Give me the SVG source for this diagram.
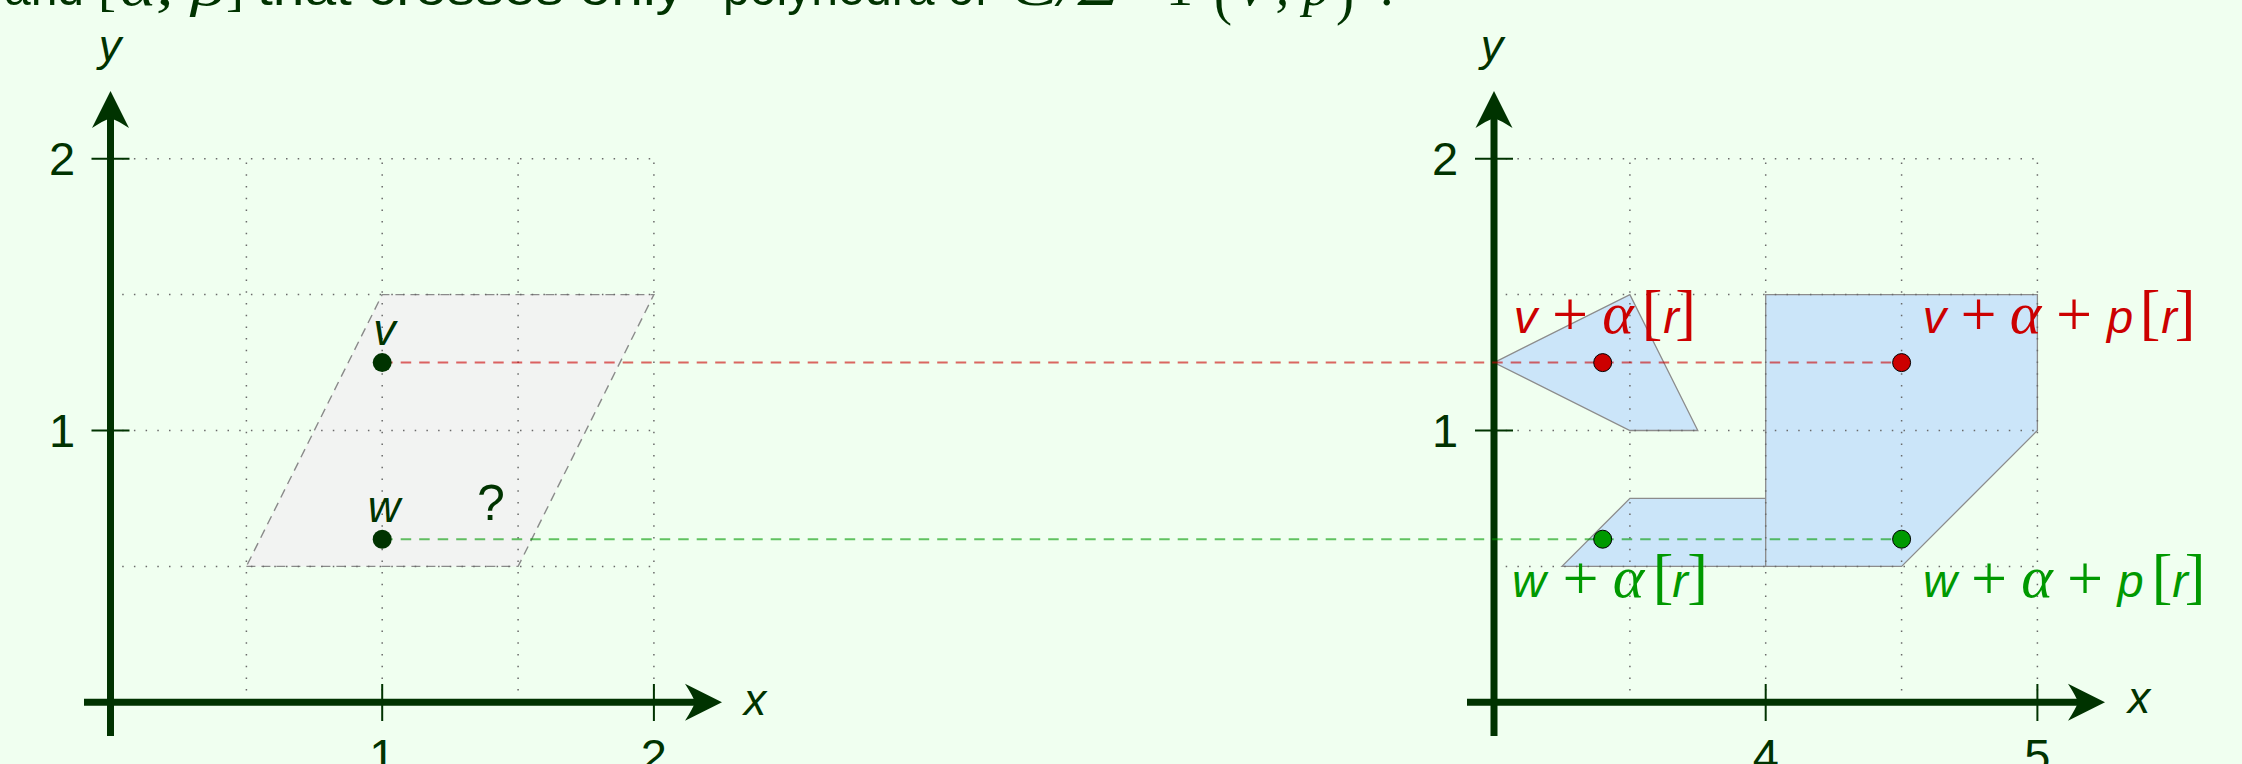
<svg xmlns="http://www.w3.org/2000/svg" width="2242" height="764" viewBox="0 0 2242 764">
<defs>
<style>
.axis{stroke:#003300;stroke-width:7;fill:none}
.tick{stroke:#003300;stroke-width:2;fill:none}
.grid{stroke:#6a6a6a;stroke-width:1.5;stroke-dasharray:1.5 10.2;fill:none}
.num{font-family:"Liberation Sans",Arial,sans-serif;font-size:47px;fill:#003300;text-anchor:middle}
.var{font-family:"Liberation Sans",Arial,sans-serif;font-style:italic;font-size:45px;fill:#003300;text-anchor:middle}
.q{font-family:"Liberation Sans",Arial,sans-serif;font-size:50px;fill:#003300;text-anchor:middle}
.ttl{font-family:"Liberation Sans",Arial,sans-serif;font-size:50px;fill:#003300}
.tts{font-family:"Liberation Serif","Times New Roman",serif;font-size:54px;fill:#003300}
.poly{fill:#cbe5f9;stroke:#8c8c8c;stroke-width:1.3}
.para{fill:#f2f3f2;stroke:#8a8a8a;stroke-width:1.4;stroke-dasharray:9 6}
.red{fill:#cc0000}
.grn{fill:#009900}
.ms{font-family:"Liberation Sans",Arial,sans-serif;font-style:italic;font-size:47px;text-anchor:middle}
.mp{font-family:"Liberation Serif","Times New Roman",serif;font-size:64px;text-anchor:middle}
.ma{font-family:"Liberation Serif","Times New Roman",serif;font-style:italic;font-size:60px;text-anchor:middle}
.mb{font-family:"Liberation Serif","Times New Roman",serif;font-size:62px;text-anchor:middle}
.dr{stroke:#cc0000;stroke-opacity:0.6;stroke-width:2;stroke-dasharray:10.5 8;fill:none}
.dg{stroke:#009900;stroke-opacity:0.6;stroke-width:2;stroke-dasharray:10.5 8;fill:none}
.dot{stroke:#000;stroke-width:1}
</style>
<marker id="arr" markerUnits="userSpaceOnUse" viewBox="-40 -20 54 40" markerWidth="54" markerHeight="40" refX="-12" refY="0" orient="auto">
<path d="M0,0 L-37,-18.5 Q-29,-6 -27,0 Q-29,6 -37,18.5 Z" fill="#003300"/>
</marker>
</defs>
<rect x="0" y="0" width="2242" height="764" fill="#f0fff0"/>

<g id="title">
<text class="ttl" x="4" y="5" textLength="80" lengthAdjust="spacingAndGlyphs">and</text>
<text class="tts" x="98" y="5" font-size="62">[</text>
<text class="tts" x="120" y="5" font-style="italic" textLength="105" lengthAdjust="spacingAndGlyphs">α, β</text>
<text class="tts" x="226" y="5" font-size="62">]</text>
<text class="ttl" x="257" y="5" textLength="427" lengthAdjust="spacingAndGlyphs">that crosses only</text>
<text class="ttl" x="723" y="5" textLength="265" lengthAdjust="spacingAndGlyphs">polyhedra of</text>
<text class="tts" x="1010" y="5" font-style="italic" textLength="110" lengthAdjust="spacingAndGlyphs">C/Σ</text>
<text class="tts" x="1166" y="5">1</text>
<text class="tts" x="1214" y="14" font-size="80">(</text>
<text class="tts" x="1240" y="5" font-style="italic" textLength="90" lengthAdjust="spacingAndGlyphs">v′, p</text>
<text class="tts" x="1336" y="14" font-size="80">)</text>
<text class="tts" x="1380" y="5">.</text>
</g>

<g id="left-plot">
<polygon id="parallelogram" class="para" points="246.4,566.4 518.1,566.4 653.9,294.6 382.2,294.6"/>
<g id="left-grid" class="grid">
<path d="M246.4,702.3V158.7M382.2,702.3V158.7M518.1,702.3V158.7M653.9,702.3V158.7"/>
<path d="M110.5,566.4H653.9M110.5,430.5H653.9M110.5,294.6H653.9M110.5,158.7H653.9"/>
</g>
<g id="left-axes">
<path class="axis" d="M110.5,736V103" marker-end="url(#arr)"/>
<path class="axis" d="M84,702.3H710" marker-end="url(#arr)"/>
<path class="tick" d="M91.5,430.5H129.5M91.5,158.7H129.5M382.2,684V721M653.9,684V721"/>
<text class="var" x="755" y="715">x</text>
<text class="var" x="110" y="61">y</text>
<text class="num" x="62" y="447">1</text>
<text class="num" x="62" y="175">2</text>
<text class="num" x="382.2" y="772">1</text>
<text class="num" x="653.9" y="772">2</text>
</g>
</g>

<g id="right-plot">
<g id="regions">
<polygon class="poly" points="1494,362.6 1629.9,294.6 1697.8,430.5 1629.9,430.5"/>
<polygon class="poly" points="1561.9,566.4 1629.9,498.4 1765.7,498.4 1765.7,566.4"/>
<polygon class="poly" points="1765.7,566.4 1765.7,294.6 2037.4,294.6 2037.4,430.5 1901.6,566.4"/>
</g>
<g id="right-grid" class="grid">
<path d="M1629.9,702.3V158.7M1765.7,702.3V158.7M1901.6,702.3V158.7M2037.4,702.3V158.7"/>
<path d="M1494,566.4H2037.4M1494,430.5H2037.4M1494,294.6H2037.4M1494,158.7H2037.4"/>
</g>
<g id="right-axes">
<path class="axis" d="M1494,736V103" marker-end="url(#arr)"/>
<path class="axis" d="M1467,702.3H2093" marker-end="url(#arr)"/>
<path class="tick" d="M1475,430.5H1513M1475,158.7H1513M1765.7,684V721M2037.4,684V721"/>
<text class="var" x="2139" y="713">x</text>
<text class="var" x="1492" y="61">y</text>
<text class="num" x="1445" y="447">1</text>
<text class="num" x="1445" y="175">2</text>
<text class="num" x="1765.7" y="772">4</text>
<text class="num" x="2037.4" y="772">5</text>
</g>
</g>

<g id="connectors">
<path class="dr" d="M382.2,362.6H1901.6"/>
<path class="dg" d="M382.2,539.2H1901.6"/>
</g>

<g id="node-v">
<circle cx="382.2" cy="362.6" r="9.5" fill="#003300"/>
<text class="var" x="384.5" y="345">v</text>
</g>
<g id="node-w">
<circle cx="382.2" cy="539.2" r="9.5" fill="#003300"/>
<text class="var" x="384" y="521.5">w</text>
</g>
<g id="node-q">
<text class="q" x="491" y="520">?</text>
</g>

<g id="node-v-alpha">
<circle class="dot red" cx="1602.7" cy="362.6" r="9"/>
<g class="red">
<text class="ms" x="1525.5" y="333">v</text>
<text class="mp" x="1570" y="336">+</text>
<text class="ma" x="1618" y="333">α</text>
<text class="mb" x="1652" y="333">[</text>
<text class="ms" x="1671" y="333">r</text>
<text class="mb" x="1685.5" y="333">]</text>
</g>
</g>
<g id="node-v-alpha-p">
<circle class="dot red" cx="1901.6" cy="362.6" r="9"/>
<g class="red">
<text class="ms" x="1934.5" y="333">v</text>
<text class="mp" x="1978.5" y="336">+</text>
<text class="ma" x="2025.5" y="333">α</text>
<text class="mp" x="2074" y="336">+</text>
<text class="ms" x="2120" y="333">p</text>
<text class="mb" x="2150" y="333">[</text>
<text class="ms" x="2169" y="333">r</text>
<text class="mb" x="2185" y="333">]</text>
</g>
</g>
<g id="node-w-alpha">
<circle class="dot grn" cx="1602.7" cy="539.2" r="9"/>
<g class="grn">
<text class="ms" x="1529" y="597">w</text>
<text class="mp" x="1580.5" y="600">+</text>
<text class="ma" x="1628.5" y="597">α</text>
<text class="mb" x="1663" y="597">[</text>
<text class="ms" x="1680" y="597">r</text>
<text class="mb" x="1697.5" y="597">]</text>
</g>
</g>
<g id="node-w-alpha-p">
<circle class="dot grn" cx="1901.6" cy="539.2" r="9"/>
<g class="grn">
<text class="ms" x="1940" y="597">w</text>
<text class="mp" x="1989" y="600">+</text>
<text class="ma" x="2037" y="597">α</text>
<text class="mp" x="2085" y="600">+</text>
<text class="ms" x="2130.5" y="597">p</text>
<text class="mb" x="2162" y="597">[</text>
<text class="ms" x="2180" y="597">r</text>
<text class="mb" x="2195" y="597">]</text>
</g>
</g>
</svg>
